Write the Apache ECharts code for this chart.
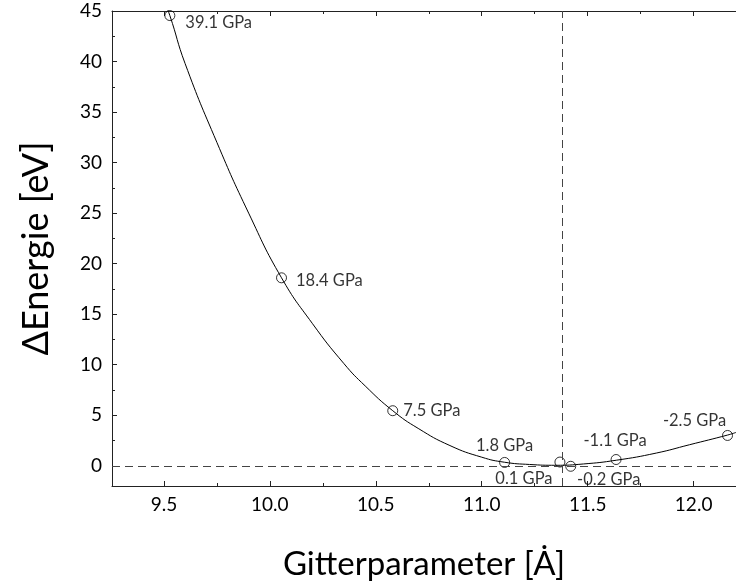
<!DOCTYPE html>
<html>
<head>
<meta charset="utf-8">
<script src="https://cdn.jsdelivr.net/npm/echarts@6/dist/echarts.min.js"></script>
<style>
html,body{margin:0;padding:0;background:#fff;}
#chart{width:736px;height:587px;}
</style>
</head>
<body>
<div id="chart"></div>
<script>
// ---- data ----
const latticeA = [9.528, 10.055, 10.58, 11.108, 11.369, 11.42, 11.634, 12.16];
const energyEV = [44.55, 18.6, 5.45, 0.33, 0.37, -0.05, 0.62, 3.0];
const pressureGPa = ['39.1', '18.4', '7.5', '1.8', '0.1', '-0.2', '-1.1', '-2.5'];

const curveX = [9.50, 9.528, 9.60, 9.75, 9.90, 10.055, 10.20, 10.35, 10.45, 10.58, 10.70, 10.85, 11.00, 11.108, 11.226, 11.35, 11.48, 11.635, 11.824, 11.98, 12.16, 12.20];
const curveY = [46.0, 44.55, 39.8, 32.0, 25.0, 18.6, 14.1, 10.1, 7.9, 5.45, 3.7, 2.0, 0.85, 0.35, 0.13, 0.05, 0.18, 0.55, 1.26, 2.08, 3.04, 3.3];

const equilibriumA = 11.38;

const xMajorTicks = [9.5, 10.0, 10.5, 11.0, 11.5, 12.0];
const xMinorTicks = [9.75, 10.25, 10.75, 11.25, 11.75];
const yMajorTicks = [0, 5, 10, 15, 20, 25, 30, 35, 40, 45];
const yMinorTicks = [2.5, 7.5, 12.5, 17.5, 22.5, 27.5, 32.5, 37.5, 42.5];

// ---- styling ----
const FONT = 'Lato';
const AXIS_COLOR = '#222';
const labelPlacement = [
  {position: 'right', offset: [5, 7]},
  {position: 'right', offset: [4, 3]},
  {position: 'right', offset: [0, 0]},
  {position: 'top', offset: [0, 2]},
  {position: 'bottom', offset: [-36, -2]},
  {position: 'bottom', offset: [38, -6]},
  {position: 'top', offset: [-1, 0]},
  {position: 'top', offset: [-33, 4]}
];

const X_MIN = 9.255, X_MAX = 12.2, Y_MIN = -2, Y_MAX = 45;

function xAxisDef(pos, ticks, len, withLabels, withLine) {
  const ax = {
    type: 'value', min: X_MIN, max: X_MAX, position: pos,
    axisLine: {show: withLine, onZero: false, lineStyle: {color: AXIS_COLOR, width: 1}},
    axisTick: {show: true, inside: true, length: len, customValues: ticks, lineStyle: {color: AXIS_COLOR}},
    axisLabel: {show: withLabels},
    splitLine: {show: false}
  };
  if (withLabels) {
    ax.axisLabel = {show: true, customValues: ticks, margin: 9, color: '#000', fontFamily: FONT, fontSize: 19,
      formatter: v => v.toFixed(1)};
    ax.name = 'Gitterparameter [Ȧ]';
    ax.nameLocation = 'middle';
    ax.nameGap = 62;
    ax.nameTextStyle = {fontFamily: FONT, fontSize: 33, color: '#000'};
  }
  return ax;
}
function yAxisDef(pos, ticks, len, withLabels, withLine) {
  const ax = {
    type: 'value', min: Y_MIN, max: Y_MAX, position: pos,
    axisLine: {show: withLine, onZero: false, lineStyle: {color: AXIS_COLOR, width: 1}},
    axisTick: {show: true, inside: true, length: len, customValues: ticks, lineStyle: {color: AXIS_COLOR}},
    axisLabel: {show: withLabels},
    splitLine: {show: false}
  };
  if (withLabels) {
    ax.axisLabel = {show: true, customValues: ticks, margin: 10, color: '#000', fontFamily: FONT, fontSize: 19,
      formatter: v => String(v)};
    ax.name = 'ΔEnergie [eV]';
    ax.nameLocation = 'middle';
    ax.nameGap = 58;
    ax.nameTextStyle = {fontFamily: FONT, fontSize: 36, color: '#000'};
  }
  return ax;
}

const chart = echarts.init(document.getElementById('chart'), null, {renderer: 'canvas'});

const scatterData = latticeA.map((x, i) => ({
  value: [x, energyEV[i]],
  label: {
    show: true,
    position: labelPlacement[i].position,
    offset: labelPlacement[i].offset,
    distance: 5,
    formatter: pressureGPa[i] + ' GPa',
    fontFamily: FONT, fontSize: 16.5, color: '#000'
  }
}));

chart.setOption({
  animation: false,
  backgroundColor: '#fff',
  grid: {left: 112, top: 11, right: 0, bottom: 101, containLabel: false},
  xAxis: [
    xAxisDef('bottom', xMajorTicks, 5, true, true),
    xAxisDef('bottom', xMinorTicks, 3, false, false),
    xAxisDef('top', xMajorTicks, 5, false, true),
    xAxisDef('top', xMinorTicks, 3, false, false)
  ],
  yAxis: [
    yAxisDef('left', yMajorTicks, 5, true, true),
    yAxisDef('left', yMinorTicks, 3, false, false)
  ],
  series: [
    {
      type: 'line',
      xAxisIndex: 0, yAxisIndex: 0,
      data: curveX.map((x, i) => [x, curveY[i]]),
      smooth: 0.5,
      showSymbol: false,
      clip: true,
      lineStyle: {color: '#000', width: 1},
      z: 3,
      markLine: {
        silent: true,
        symbol: ['none', 'none'],
        label: {show: false},
        lineStyle: {color: '#444', width: 1, type: [8, 5]},
        data: [{yAxis: 0}, {xAxis: equilibriumA}]
      }
    },
    {
      type: 'scatter',
      xAxisIndex: 0, yAxisIndex: 0,
      symbol: 'circle',
      symbolSize: 10,
      itemStyle: {color: 'rgba(0,0,0,0)', borderColor: '#000', borderWidth: 1},
      data: scatterData,
      z: 4
    }
  ]
});
</script>
</body>
</html>
